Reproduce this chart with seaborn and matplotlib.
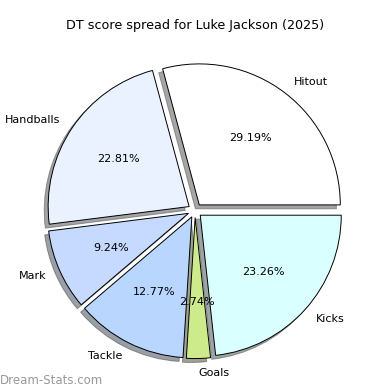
import matplotlib
matplotlib.use("Agg")
import matplotlib.pyplot as plt
import seaborn as sns

sns.set_theme(style="white")
plt.rcParams['font.family'] = ['DejaVu Sans']

categories = ["Hitout", "Handballs", "Mark", "Tackle", "Goals", "Kicks"]
values = [29.19, 22.81, 9.24, 12.77, 2.74, 23.26]
colors = ["#ffffff", "#eaf1ff", "#c6d9ff", "#b8d6ff", "#cdeb8b", "#d9ffff"]
explode = [0.05] * len(values)

W = H = 390
fig = plt.figure(figsize=(W / 100, H / 100), dpi=100)
# pie centre (195, 210.5) px from top-left, radius ~141 px
L = 1.25
size = 2 * L * 141
cx, cy = 195, 210.5
ax = fig.add_axes([(cx - size / 2) / W, (H - cy - size / 2) / H, size / W, size / H])
ax.pie(values, labels=categories, colors=colors, explode=explode,
       autopct="%1.2f%%", shadow=True, startangle=0,
       wedgeprops=dict(edgecolor="black", linewidth=0.7),
       textprops=dict(fontsize=8, color="black"))
ax.set_xlim(-L, L)
ax.set_ylim(-L, L)
ax.set_aspect("equal")
ax.axis("off")
fig.text(195 / W, 1 - 25 / H, "DT score spread for Luke Jackson (2025)",
         fontsize=9.2, ha="center", va="center", color="black")
fig.text(0.0, 1 - 380 / H, "Dream-Stats.com", fontsize=8.5, color="#999999",
         va="center")
fig.savefig("out.png", dpi=100)
